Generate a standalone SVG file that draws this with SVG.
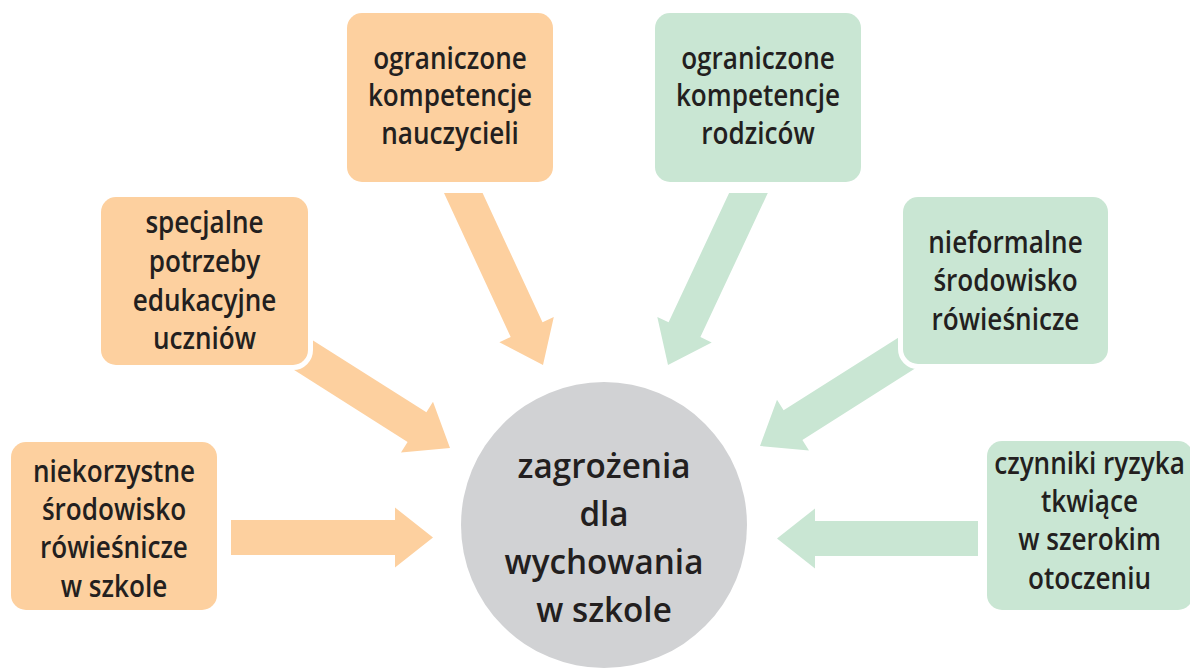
<svg xmlns="http://www.w3.org/2000/svg" width="1190" height="671" viewBox="0 0 1190 671">
<style>
.bo{fill:#FDD09F;stroke:#fff;stroke-width:10;paint-order:stroke}
.bg{fill:#C9E6D3;stroke:#fff;stroke-width:10;paint-order:stroke}
.ao{fill:#FDD09F}
.ag{fill:#C9E6D3}
.t{font-family:"Open Sans","Noto Sans",sans-serif;font-weight:600;font-size:30px;fill:#231F20;text-anchor:middle}
.tc{font-family:"Open Sans","Noto Sans",sans-serif;font-weight:600;font-size:35px;fill:#231F20;text-anchor:middle}
</style>
<rect width="1190" height="671" fill="#fff"/>
<g id="connectors">
<polygon class="ao" points="444,193 482.6,193 542.5,322.3 553.8,317 543,365 499.4,342.2 510.7,337"/>
<polygon class="ag" points="729.1,193 767.8,193 700.4,337.1 711.7,342.4 668,365 657.3,317 668.6,322.3"/>
<polygon class="ao" points="299.6,332 426.4,412.3 433,401.8 450,448 401,452.4 407.6,441.9 280.8,361.6"/>
<polygon class="ag" points="910.4,330 783.6,410.3 777,399.7 760,446 809,450.5 802.4,439.9 929.2,359.6"/>
<polygon class="ao" points="231,520 395,520 395,507.5 433,537.5 395,567.5 395,555 231,555"/>
<polygon class="ag" points="978,521 815,521 815,508.5 777,538.5 815,568.5 815,556 978,556"/>
</g>
<g id="center">
<circle cx="604" cy="525" r="143" fill="#D1D2D4"/>
<text class="tc" transform="translate(604,0) scale(0.95,1)"><tspan x="0" y="478">zagrożenia</tspan><tspan x="0" y="526">dla</tspan><tspan x="0" y="574">wychowania</tspan><tspan x="0" y="622">w szkole</tspan></text>
</g>
<g id="n-nauczyciele">
<rect class="bo" x="347" y="13" width="206" height="169" rx="15"/>
<text class="t" transform="translate(450,0) scale(0.87,1)"><tspan x="0" y="69">ograniczone</tspan><tspan x="0" y="106.5">kompetencje</tspan><tspan x="0" y="144">nauczycieli</tspan></text>
</g>
<g id="n-rodzice">
<rect class="bg" x="655" y="13" width="206" height="169" rx="15"/>
<text class="t" transform="translate(758,0) scale(0.87,1)"><tspan x="0" y="69">ograniczone</tspan><tspan x="0" y="106.5">kompetencje</tspan><tspan x="0" y="144">rodziców</tspan></text>
</g>
<g id="n-specjalne">
<rect class="bo" x="101" y="197" width="207" height="168" rx="15"/>
<text class="t" transform="translate(204.5,0) scale(0.87,1)"><tspan x="0" y="233">specjalne</tspan><tspan x="0" y="272">potrzeby</tspan><tspan x="0" y="311">edukacyjne</tspan><tspan x="0" y="349.5">uczniów</tspan></text>
</g>
<g id="n-nieformalne">
<rect class="bg" x="903" y="197" width="205" height="167" rx="15"/>
<text class="t" transform="translate(1005.5,0) scale(0.87,1)"><tspan x="0" y="253">nieformalne</tspan><tspan x="0" y="291.5">środowisko</tspan><tspan x="0" y="330">rówieśnicze</tspan></text>
</g>
<g id="n-niekorzystne">
<rect class="bo" x="11" y="442" width="206" height="168" rx="15"/>
<text class="t" transform="translate(114,0) scale(0.87,1)"><tspan x="0" y="482">niekorzystne</tspan><tspan x="0" y="520">środowisko</tspan><tspan x="0" y="558.5">rówieśnicze</tspan><tspan x="0" y="597">w szkole</tspan></text>
</g>
<g id="n-czynniki">
<rect class="bg" x="987" y="441" width="206" height="169" rx="15"/>
<text class="t" transform="translate(1089.5,0) scale(0.87,1)"><tspan x="0" y="474">czynniki ryzyka</tspan><tspan x="0" y="512">tkwiące</tspan><tspan x="0" y="550.5">w szerokim</tspan><tspan x="0" y="589">otoczeniu</tspan></text>
</g>
</svg>
